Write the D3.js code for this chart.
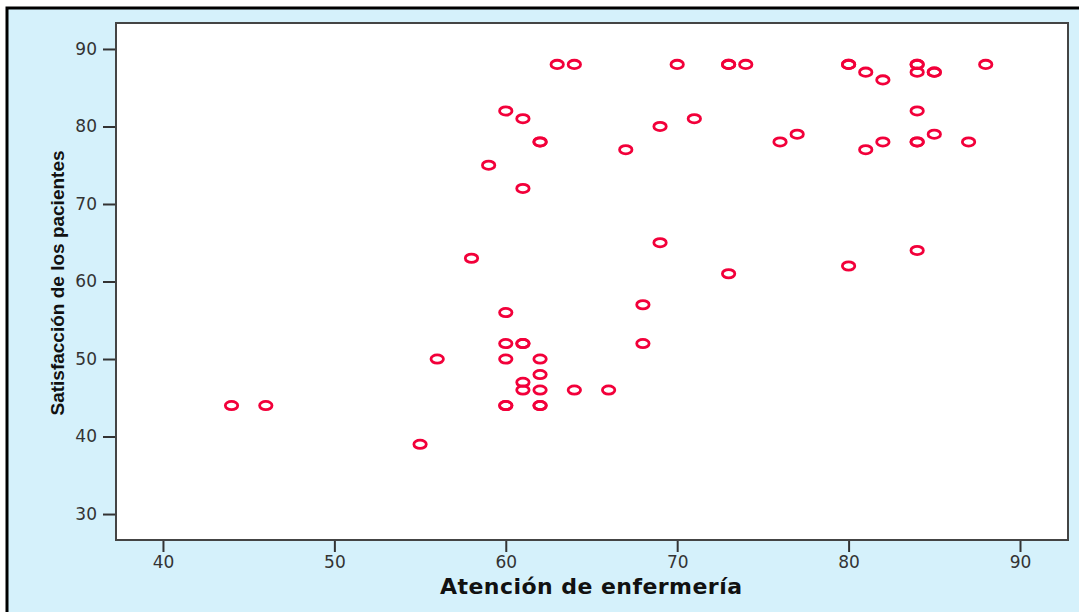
<!DOCTYPE html>
<html>
<head>
<meta charset="utf-8">
<script src="https://cdn.jsdelivr.net/npm/d3@7"></script>
<style>
  body { margin: 0; background: #fff; }
  svg { display: block; }
</style>
</head>
<body>
<div id="chart"></div>
<script>
// Datos (atención de enfermería vs satisfacción de los pacientes)
const atencion = [
  44, 46, 55, 56, 58, 59,
  60, 60, 60, 60, 60, 60,
  61, 61, 61, 61, 61, 61,
  62, 62, 62, 62, 62, 62, 62,
  63, 64, 64, 66, 67, 68, 68, 69, 69, 70, 71,
  73, 73, 73, 74, 76, 77,
  80, 80, 80, 81, 81, 82, 82,
  84, 84, 84, 84, 84, 84, 84,
  85, 85, 85, 87, 88
];
const satisfaccion = [
  44, 44, 39, 50, 63, 75,
  82, 56, 52, 50, 44, 44,
  81, 72, 52, 52, 47, 46,
  78, 78, 50, 48, 46, 44, 44,
  88, 88, 46, 46, 77, 57, 52, 80, 65, 88, 81,
  88, 88, 61, 88, 78, 79,
  88, 88, 62, 87, 77, 86, 78,
  88, 88, 87, 82, 78, 78, 64,
  87, 87, 79, 78, 88
];
const xTicks = [40, 50, 60, 70, 80, 90];
const yTicks = [30, 40, 50, 60, 70, 80, 90];

const [width, height] = [1079, 612];
const plot = { left: 116, top: 23, right: 1068, bottom: 540 };

const svg = d3.select('#chart')
  .append('svg')
  .attr('width', width)
  .attr('height', height);

// fondo azul con borde negro
svg.append('rect')
  .attr('x', 7).attr('y', 8)
  .attr('width', 1200).attr('height', 800)
  .attr('fill', '#d5f1fb')
  .attr('stroke', '#000')
  .attr('stroke-width', 3);

const x = d3.scaleLinear()
  .domain([37.26, 92.8])
  .range([plot.left, plot.right]);

const y = d3.scaleLinear()
  .domain([26.65, 93.35])
  .range([plot.bottom, plot.top]);

svg.append('rect')
  .attr('x', plot.left).attr('y', plot.top)
  .attr('width', plot.right - plot.left)
  .attr('height', plot.bottom - plot.top)
  .attr('fill', '#fff')
  .attr('stroke', '#444')
  .attr('stroke-width', 2);

const styleAxis = (g) => {
  g.select('.domain').remove();
  g.selectAll('.tick line').attr('stroke', '#333').attr('stroke-width', 2);
  g.selectAll('.tick text')
    .attr('fill', '#333')
    .style('font-family', '"DejaVu Sans", sans-serif')
    .style('font-size', '17px');
};

svg.append('g')
  .attr('transform', `translate(${plot.left - 1},0)`)
  .call(d3.axisLeft(y).tickValues(yTicks).tickSize(12).tickPadding(6))
  .call(styleAxis);

svg.append('g')
  .attr('transform', `translate(0,${plot.bottom + 1})`)
  .call(d3.axisBottom(x).tickValues(xTicks).tickSize(11).tickPadding(4))
  .call(styleAxis);

// títulos de los ejes
svg.append('text')
  .attr('x', 591).attr('y', 594)
  .attr('text-anchor', 'middle')
  .attr('fill', '#111')
  .attr('textLength', 302)
  .attr('lengthAdjust', 'spacing')
  .style('font-family', '"DejaVu Sans", sans-serif')
  .style('font-weight', 'bold')
  .style('font-size', '22px')
  .text('Atención de enfermería');

svg.append('text')
  .attr('transform', 'translate(64,283) rotate(-90)')
  .attr('text-anchor', 'middle')
  .attr('fill', '#111')
  .style('font-family', '"Liberation Sans Narrow", "Liberation Sans", sans-serif')
  .style('font-weight', 'bold')
  .style('font-size', '19px')
  .text('Satisfacción de los pacientes');

// puntos
const data = atencion.map((a, i) => ({ a, s: satisfaccion[i] }));
svg.append('g').selectAll('ellipse')
  .data(data)
  .enter()
  .append('ellipse')
  .attr('cx', (d) => x(d.a))
  .attr('cy', (d) => y(d.s))
  .attr('rx', 6.2)
  .attr('ry', 4.2)
  .attr('fill', 'none')
  .attr('stroke', '#f2003a')
  .attr('stroke-width', 2.8);
</script>
</body>
</html>
